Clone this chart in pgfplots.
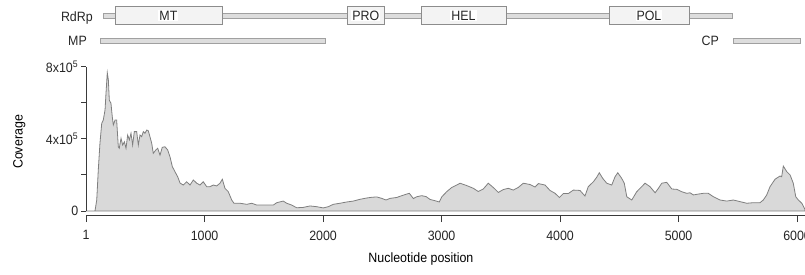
\documentclass[border=0pt]{standalone}
\usepackage{pgfplots}
\pgfplotsset{compat=1.18}
\usepackage{fontspec}
\setmainfont{Liberation Sans}[FakeStretch=0.92]
\definecolor{covfill}{HTML}{D9D9D9}
\definecolor{covline}{HTML}{7F7F7F}
\definecolor{axcol}{HTML}{3A3A3A}
\definecolor{boxfill}{HTML}{F3F3F3}
\definecolor{boxline}{HTML}{8C8C8C}
\definecolor{barfill}{HTML}{DDDDDD}
\definecolor{barline}{HTML}{A0A0A0}
\begin{document}
\fontsize{13.5}{16}\selectfont
\begin{tikzpicture}
\begin{axis}[
  scale only axis, width=718.8pt, height=149pt,
  xmin=1, xmax=6067, ymin=-26000, ymax=800000,
  clip=false,
  axis x line*=bottom, axis y line*=left,
  y axis line style={draw=none},
  x axis line style={draw=axcol, line width=0.9pt, -},
  tick align=outside,
  xtick={1,1000,2000,3000,4000,5000,6000},
  xticklabels={1,1000,2000,3000,4000,5000,6000},
  ytick={0,200000,400000,600000,800000},
  yticklabels={0,,4x10\textsuperscript{5},,8x10\textsuperscript{5}},
  scaled y ticks=false,
  xtick style={draw=axcol, line width=0.9pt, /pgfplots/major tick length=6.5pt},
  ytick style={draw=axcol, line width=0.9pt, /pgfplots/major tick length=5pt},
  xticklabel style={yshift=-6pt, text=black!85},
  yticklabel style={text=black!85, xshift=1pt},
]
\addplot[fill=covfill, draw=covline, line width=0.8pt] coordinates {
(1,0) (75,0) (90,61000) (103,227000) (117,375000) (132,486000) (145,504000) (160,560000) (168,652000) (179,767000) (188,726000) (196,615000) (210,597000) (221,523000) (230,477000) (244,504000) (258,504000) (272,356000) (280,348000) (295,403000) (309,366000) (323,384000) (337,348000) (351,421000) (365,394000) (379,431000) (393,366000) (407,440000) (427,440000) (441,366000) (455,421000) (469,412000) (483,440000) (497,431000) (512,449000) (525,445000) (539,412000) (554,375000) (567,320000) (588,338000) (604,348000) (624,310000) (643,353000) (666,356000) (689,338000) (708,301000) (728,246000) (750,218000) (773,190000) (793,155000) (820,144000) (849,162000) (877,144000) (905,172000) (934,154000) (961,144000) (989,162000) (1018,135000) (1046,135000) (1074,144000) (1102,139000) (1130,154000) (1150,176000) (1172,126000) (1200,107000) (1229,61000) (1248,43000) (1299,43000) (1356,37000) (1398,43000) (1440,33000) (1524,33000) (1580,33000) (1609,46000) (1664,55000) (1693,43000) (1735,33000) (1777,18000) (1833,20000) (1890,28000) (1946,24000) (2002,17000) (2044,24000) (2086,37000) (2143,43000) (2199,50000) (2255,55000) (2312,65000) (2368,72000) (2410,76000) (2453,78000) (2495,70000) (2531,61000) (2565,70000) (2621,75000) (2664,85000) (2706,94000) (2728,98000) (2762,69000) (2790,79000) (2832,85000) (2869,80000) (2903,64000) (2945,57000) (2981,50000) (3001,78000) (3043,107000) (3085,130000) (3128,144000) (3156,154000) (3212,141000) (3268,126000) (3310,108000) (3352,122000) (3394,154000) (3437,130000) (3479,103000) (3521,119000) (3563,126000) (3605,116000) (3648,131000) (3690,154000) (3746,147000) (3789,133000) (3817,152000) (3873,144000) (3915,114000) (3958,98000) (3994,75000) (4028,97000) (4070,97000) (4112,116000) (4168,114000) (4210,83000) (4238,135000) (4281,162000) (4309,187000) (4331,212000) (4360,181000) (4394,154000) (4436,144000) (4464,190000) (4487,212000) (4520,181000) (4542,154000) (4563,79000) (4605,61000) (4647,107000) (4689,135000) (4717,154000) (4759,135000) (4802,101000) (4830,126000) (4858,154000) (4900,159000) (4943,122000) (4985,120000) (5027,107000) (5069,98000) (5097,101000) (5125,89000) (5167,94000) (5209,98000) (5251,98000) (5294,79000) (5350,61000) (5407,55000) (5462,61000) (5519,52000) (5575,43000) (5631,46000) (5687,46000) (5715,61000) (5744,89000) (5772,135000) (5814,176000) (5856,194000) (5870,190000) (5884,249000) (5913,218000) (5941,200000) (5968,154000) (5989,79000) (6011,61000) (6040,43000) (6067,9000)
} \closedcycle;
% y axis line from 0 to 8x10^5
\draw[axcol, line width=0.9pt] (axis cs:1,0) -- (axis cs:1,800000);
\coordinate (O) at (axis cs:1,0);
% axis labels
\node[rotate=90, anchor=center] at ([xshift=-67pt]axis cs:1,382500) {Coverage};
\node[anchor=center] at ([yshift=-48pt]axis cs:2826,0) {Nucleotide position};
% genome tracks
\draw[fill=barfill, draw=barline, line width=0.5pt] (axis cs:143,1068800) rectangle (axis cs:5451,1093700);
\draw[fill=barfill, draw=barline, line width=0.5pt] (axis cs:117,929700) rectangle (axis cs:2016,957400);
\draw[fill=barfill, draw=barline, line width=0.5pt] (axis cs:5460,929700) rectangle (axis cs:6026,957400);
\draw[fill=boxfill, draw=boxline, line width=0.6pt] (axis cs:244,1035000) rectangle (axis cs:1147,1132500);
\draw[fill=boxfill, draw=boxline, line width=0.6pt] (axis cs:2208,1035000) rectangle (axis cs:2514,1132500);
\draw[fill=boxfill, draw=boxline, line width=0.6pt] (axis cs:2827,1035000) rectangle (axis cs:3544,1132500);
\draw[fill=boxfill, draw=boxline, line width=0.6pt] (axis cs:4413,1035000) rectangle (axis cs:5088,1132500);
\node[fill=white, inner sep=1pt, text=black!85] at (axis cs:695,1083700) {MT};
\node[fill=white, inner sep=1pt, text=black!85] at (axis cs:2361,1083700) {PRO};
\node[fill=white, inner sep=1pt, text=black!85] at (axis cs:3185,1083700) {HEL};
\node[fill=white, inner sep=1pt, text=black!85] at (axis cs:4750,1083700) {POL};
\node[anchor=east, inner sep=0pt, text=black!85] at (axis cs:58,1072600) {RdRp};
\node[anchor=east, inner sep=0pt, text=black!85] at (axis cs:8,945000) {MP};
\node[anchor=east, inner sep=0pt, text=black!85] at (axis cs:5342,942300) {CP};
\end{axis}
\pgfresetboundingbox
\path (O) ++(-86.2pt,211pt) rectangle ++(805pt,-274pt);
\end{tikzpicture}
\end{document}
